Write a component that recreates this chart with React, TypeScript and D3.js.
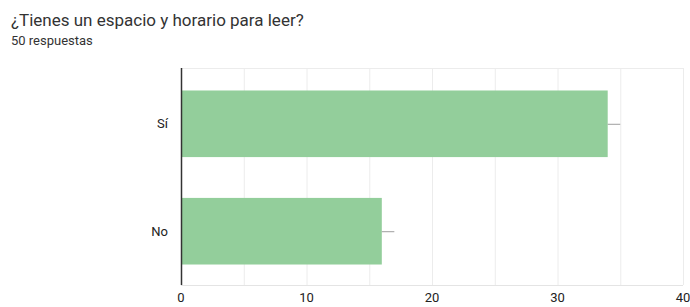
import React, { useEffect, useRef } from 'react';
import * as d3 from 'd3';

const categories = ['Sí', 'No'];
const counts = [34, 16];
const whiskers = [35, 17];
const xTicks = [0, 10, 20, 30, 40];
const gridTicks = [0, 5, 10, 15, 20, 25, 30, 35, 40];

const App: React.FC = () => {
  const ref = useRef<HTMLDivElement | null>(null);

  useEffect(() => {
    if (!ref.current) return;
    ref.current.innerHTML = '';

    const width = 690;
    const height = 307;
    const margin = { top: 68, right: 6, bottom: 22, left: 181 };
    const w = width - margin.left - margin.right;
    const h = height - margin.top - margin.bottom;
    const font = 'Roboto, Arial, sans-serif';

    const svg = d3
      .select(ref.current)
      .append('svg')
      .attr('width', width)
      .attr('height', height)
      .style('display', 'block')
      .style('background', '#fff');

    // title
    svg.append('text').attr('x', 11).attr('y', 26).attr('font-family', font)
      .attr('font-size', 17).attr('fill', '#333').text('¿Tienes un espacio y horario para leer?');
    svg.append('text').attr('x', 11).attr('y', 45).attr('font-family', font)
      .attr('font-size', 13).attr('fill', '#333').text('50 respuestas');

    const x = d3.scaleLinear().domain([0, 40]).range([0, w - 1]);
    const y = d3.scaleBand<string>().domain(categories).range([0, h]).paddingInner(0.38).paddingOuter(0.2);

    const g = svg.append('g').attr('transform', `translate(${margin.left}, ${margin.top})`);

    // grid
    g.selectAll('.grid').data(gridTicks).enter().append('line')
      .attr('x1', (d) => x(d) + 0.5).attr('x2', (d) => x(d) + 0.5)
      .attr('y1', 0).attr('y2', h)
      .attr('stroke', '#ececec').attr('stroke-width', 1);
    g.append('line').attr('x1', 0).attr('x2', x(40)).attr('y1', 0.5).attr('y2', 0.5)
      .attr('stroke', '#ececec');
    g.append('line').attr('x1', 0).attr('x2', x(40)).attr('y1', h + 0.5).attr('y2', h + 0.5)
      .attr('stroke', '#e4e4e4');

    // bars
    g.selectAll('.bar').data(categories).enter().append('rect')
      .attr('x', 0).attr('y', (d) => (y(d) as number) + 1)
      .attr('width', (d, i) => x(counts[i]))
      .attr('height', y.bandwidth())
      .attr('fill', '#93ce9b');

    // whiskers
    g.selectAll('.whisker').data(categories).enter().append('line')
      .attr('x1', (d, i) => x(counts[i])).attr('x2', (d, i) => x(whiskers[i]))
      .attr('y1', (d) => (y(d) as number) + y.bandwidth() / 2 + 1.5)
      .attr('y2', (d) => (y(d) as number) + y.bandwidth() / 2 + 1.5)
      .attr('stroke', '#9e9e9e').attr('stroke-width', 1);

    // axis line
    g.append('line').attr('x1', 0.5).attr('x2', 0.5).attr('y1', 0).attr('y2', h)
      .attr('stroke', '#333').attr('stroke-width', 1.5);

    // y labels
    g.selectAll('.ylab').data(categories).enter().append('text')
      .attr('x', -13).attr('y', (d) => (y(d) as number) + y.bandwidth() / 2 + 1)
      .attr('dy', '0.35em').attr('text-anchor', 'end')
      .attr('font-family', font).attr('font-size', 13).attr('fill', '#222')
      .text((d) => d);

    // x labels
    g.selectAll('.xlab').data(xTicks).enter().append('text')
      .attr('x', (d) => x(d)).attr('y', h + 17)
      .attr('text-anchor', 'middle')
      .attr('font-family', font).attr('font-size', 13).attr('fill', '#222')
      .text((d) => d);
  }, []);

  return <div ref={ref} style={{ position: 'absolute', left: 0, top: 0 }} />;
};

export default App;
